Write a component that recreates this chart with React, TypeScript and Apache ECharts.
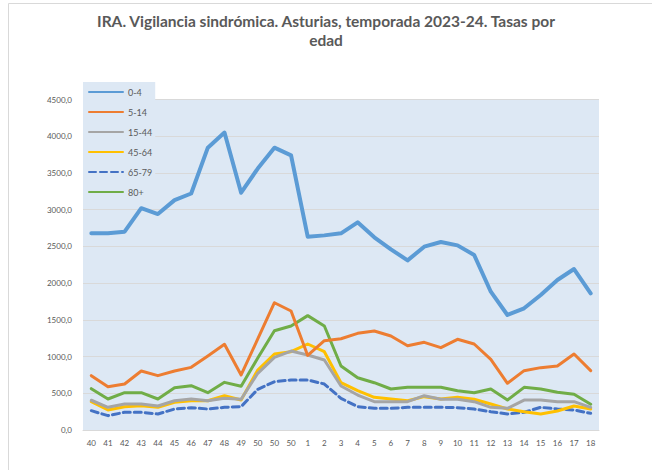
import React, { useEffect, useRef } from "react";
import * as echarts from "echarts";

const weeks = ["40","41","42","43","44","45","46","47","48","49","50","50","50","1","2","3","4","5","6","7","8","9","10","11","12","13","14","15","16","17","18"];

const age0_4 = [2680,2680,2700,3020,2940,3130,3220,3844,4050,3231,3560,3844,3740,2632,2650,2678,2828,2624,2460,2310,2496,2560,2514,2383,1883,1566,1657,1838,2042,2192,1861];
const age5_14 = [740,590,626,803,740,803,853,1008,1167,749,1240,1733,1620,1015,1216,1243,1316,1348,1280,1148,1194,1121,1235,1171,962,636,808,849,871,1035,808];
const age15_44 = [405,309,354,354,327,399,422,399,431,418,772,989,1075,1021,953,599,476,386,386,386,467,418,418,386,309,295,408,408,386,386,309];
const age45_64 = [385,272,317,331,309,377,399,399,467,408,817,1035,1066,1171,1066,644,535,445,422,399,454,422,445,418,354,286,249,218,259,327,286];
const age65_79 = [263,195,241,241,218,286,304,286,309,318,554,658,681,681,626,431,318,295,295,309,309,309,304,286,249,218,241,309,286,272,227];
const age80 = [563,422,508,508,422,576,604,508,649,595,980,1352,1416,1557,1416,871,712,644,558,581,581,581,535,508,558,408,581,558,513,486,350];

const seriesNames = ["0-4","5-14","15-44","45-64","65-79","80+"];
const seriesColors = ["#5b9bd5","#ed7d31","#a5a5a5","#ffc000","#4472c4","#70ad47"];
const yTicks = { min: 0, max: 4500, interval: 500 };

const FONT = "Lato, 'Liberation Sans', sans-serif";

export default function App() {
  const ref = useRef<HTMLDivElement>(null);
  useEffect(() => {
    document.body.style.margin = "0";
    if (!ref.current) return;
    const chart = echarts.init(ref.current, null, { renderer: "svg" });
    const data = [age0_4, age5_14, age15_44, age45_64, age65_79, age80];
    chart.setOption({
      animation: false,
      backgroundColor: "#ffffff",
      textStyle: { fontFamily: FONT },
      graphic: [
        { type: "rect", shape: { x: 8.5, y: 3.5, width: 660, height: 480 }, style: { fill: "none", stroke: "#d9d9d9", lineWidth: 1 }, silent: true, z: -1 },
        { type: "text", x: 326, y: 13, style: { text: "IRA. Vigilancia sindrómica. Asturias, temporada 2023-24. Tasas por", fill: "#595959", font: `bold 15.5px ${FONT}`, textAlign: "center" } },
        { type: "text", x: 326, y: 32, style: { text: "edad", fill: "#595959", font: `bold 15.5px ${FONT}`, textAlign: "center" } },
      ],
      grid: { left: 83, right: 53, top: 99.5, bottom: 40, show: true, backgroundColor: "#dde8f4", borderWidth: 0 },
      legend: {
        orient: "vertical",
        left: 83,
        top: 82,
        padding: [3, 3, 3, 5],
        backgroundColor: "#dde8f4",
        itemWidth: 34,
        itemHeight: 14,
        itemGap: 6,
        itemStyle: { opacity: 0 },
        textStyle: { color: "#595959", fontSize: 9, fontFamily: FONT, lineHeight: 14 },
        data: seriesNames,
      },
      xAxis: {
        type: "category",
        data: weeks,
        boundaryGap: true,
        axisTick: { show: false },
        axisLine: { show: true, lineStyle: { color: "#d9d9d9", width: 1 } },
        axisLabel: { color: "#595959", fontSize: 8, margin: 9, interval: 0, fontFamily: FONT },
        splitLine: { show: false },
      },
      yAxis: {
        type: "value",
        min: yTicks.min,
        max: yTicks.max,
        interval: yTicks.interval,
        axisLine: { show: false },
        axisTick: { show: false },
        axisLabel: {
          color: "#595959",
          fontSize: 8,
          margin: 11,
          fontFamily: FONT,
          formatter: (v: number) => v.toFixed(1).replace(".", ","),
        },
        splitLine: { lineStyle: { color: "#d9d9d9", width: 1 } },
      },
      series: seriesNames.map((name, i) => ({
        name,
        type: "line",
        data: data[i],
        symbol: "none",
        z: 10 - i,
        lineStyle: {
          color: seriesColors[i],
          width: i === 0 ? 4 : 3,
          type: i === 4 ? [7, 4] : "solid",
          cap: "round",
          join: "round",
        },
        itemStyle: { color: seriesColors[i] },
      })),
    });
    return () => chart.dispose();
  }, []);
  return <div ref={ref} style={{ width: 652, height: 470 }} />;
}
